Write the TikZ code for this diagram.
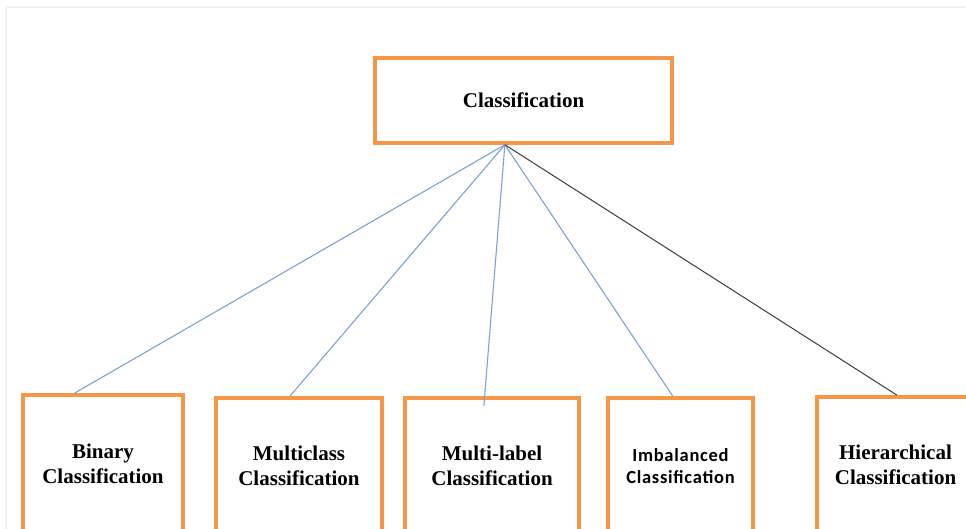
\documentclass[tikz,border=0pt]{standalone}
\usepackage{fontspec}
\setmainfont{Liberation Serif}
\newfontfamily\calfont[LetterSpace=4]{Carlito}
\usetikzlibrary{calc}
\definecolor{boxorange}{RGB}{247,150,70}
\definecolor{linkblue}{RGB}{125,162,212}
\definecolor{linkdark}{RGB}{60,60,60}
\definecolor{frameline}{RGB}{242,242,242}
\begin{document}
\begin{tikzpicture}[x=1pt,y=-1pt,
  catbox/.style={draw=boxorange,line width=3.5pt,fill=white,align=center,
    font=\bfseries\fontsize{21}{25}\selectfont,inner sep=0pt},
  bluelink/.style={draw=linkblue,line width=1.1pt},
  darklink/.style={draw=linkdark,line width=1pt}]
\useasboundingbox (0,0) rectangle (966,529);
\clip (0,0) rectangle (966,529);
\fill[white] (0,0) rectangle (966,529);
\draw[frameline,line width=1.5pt] (6,529) -- (6,7) -- (966,7);
% top node
\node[catbox,minimum width=297pt,minimum height=85pt] (top) at (523.5,100.5) {Classification};
% bottom nodes
\node[catbox,minimum width=160pt,minimum height=138pt] (b1) at (103,464) {Binary\\Classification};
\node[catbox,minimum width=166pt,minimum height=136pt] (b2) at (299,466) {Multiclass\\Classification};
\node[catbox,minimum width=174pt,minimum height=136pt] (b3) at (492,466) {Multi-label\\Classification};
\node[catbox,minimum width=145pt,minimum height=136pt,font=\calfont\bfseries\fontsize{18.5}{22}\selectfont] (b4) at (680.5,466) {Imbalanced\\Classification};
\node[catbox,minimum width=157pt,minimum height=136pt] (b5) at (895.5,465) {Hierarchical\\Classification};
% hub
\coordinate (hub) at ($(top.south west)!0.438!(top.south east)$);
\draw[bluelink] (hub) -- ($(b1.north west)!0.325!(b1.north east)$);
\draw[bluelink] (hub) -- ($(b2.north west)!0.446!(b2.north east)$);
\draw[bluelink] (hub) -- ($(b3.north west)!0.454!(b3.north east)+(0,10)$);
\draw[bluelink] (hub) -- ($(b4.north west)!0.448!(b4.north east)$);
\draw[darklink] (hub) -- ($(b5.north west)!0.51!(b5.north east)$);
\end{tikzpicture}
\end{document}
